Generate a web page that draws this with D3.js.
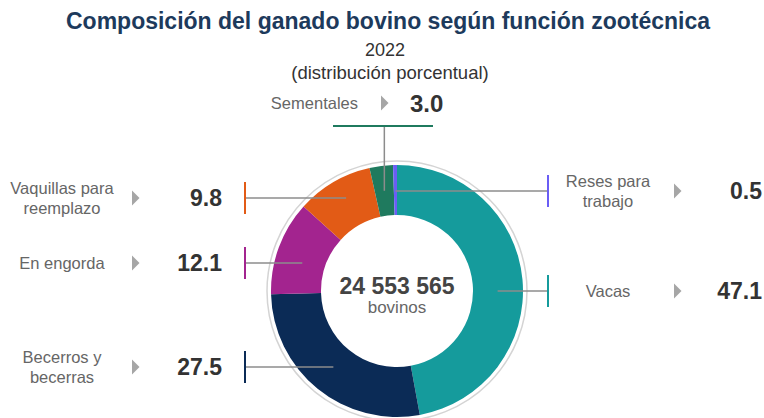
<!DOCTYPE html>
<html>
<head>
<meta charset="utf-8">
<script src="https://cdn.jsdelivr.net/npm/d3@7"></script>
<style>
  body { margin: 0; background: #fff; }
  text { font-family: "Liberation Sans", Arial, sans-serif; }
</style>
</head>
<body>
<div id="chart"></div>
<script>
const WIDTH = 764, HEIGHT = 418;

// data
const categories = ["Vacas", "Becerros y becerras", "En engorda", "Vaquillas para reemplazo", "Sementales", "Reses para trabajo"];
const labelLines = [["Vacas"], ["Becerros y", "becerras"], ["En engorda"], ["Vaquillas para", "reemplazo"], ["Sementales"], ["Reses para", "trabajo"]];
const values = [47.1, 27.5, 12.1, 9.8, 3.0, 0.5];
const colors = ["#159b9c", "#0b2b56", "#a3248f", "#e25b16", "#1f7a5e", "#6a5df5"];
const total = "24 553 565";

// layout of callouts (side + label row)
const layout = {
    "Vacas": {side: "right", y: 291},
    "Becerros y becerras": {side: "left", y: 367},
    "En engorda": {side: "left", y: 263},
    "Vaquillas para reemplazo": {side: "left", y: 198},
    "Sementales": {side: "top", y: 126},
    "Reses para trabajo": {side: "right", y: 191}
};

const CX = 397, CY = 291, R_OUT = 126, R_IN = 76;

const svg = d3.select("#chart").append("svg").attr("width", WIDTH).attr("height", HEIGHT)

// titles
svg.append("text").attr("x", 388).attr("y", 29).attr("text-anchor", "middle")
    .attr("font-size", 23).attr("font-weight", "bold").attr("fill", "#1d3a5c")
    .text("Composición del ganado bovino según función zootécnica")
svg.append("text").attr("x", 385).attr("y", 56).attr("text-anchor", "middle")
    .attr("font-size", 18).attr("fill", "#333").text("2022")
svg.append("text").attr("x", 390).attr("y", 79).attr("text-anchor", "middle")
    .attr("font-size", 18.5).attr("fill", "#333").text("(distribución porcentual)")

const g = svg.append("g").attr("transform", "translate(" + CX + "," + CY + ")")

// thin outer ring
g.append("circle").attr("r", R_OUT + 4).attr("fill", "none").attr("stroke", "#d4d4d4").attr("stroke-width", 1.5)

const pie = d3.pie().sort(null).value(d => d.value)
const arc = d3.arc().innerRadius(R_IN).outerRadius(R_OUT)
const mid = d3.arc().innerRadius((R_IN + R_OUT) / 2).outerRadius((R_IN + R_OUT) / 2)

const data = categories.map((c, i) => ({name: c, value: values[i], color: colors[i], lines: labelLines[i]}))
const arcs = pie(data)

g.selectAll("path.slice").data(arcs).enter().append("path")
    .attr("class", "slice").attr("d", arc).attr("fill", d => d.data.color)

// center text
g.append("text").attr("y", 3).attr("text-anchor", "middle").attr("font-size", 23)
    .attr("font-weight", "bold").attr("fill", "#444").text(total)
g.append("text").attr("y", 22).attr("text-anchor", "middle").attr("font-size", 17)
    .attr("fill", "#666").text("bovinos")

function arrow(x, y) {
    svg.append("path").attr("d", "M" + x + "," + (y - 7.5) + "L" + (x + 7.5) + "," + y + "L" + x + "," + (y + 7.5) + "Z")
        .attr("fill", "#a6a6a6")
}

function labelText(x, y, lines, anchor) {
    const t = svg.append("text").attr("text-anchor", anchor).attr("font-size", 16.5).attr("fill", "#666")
    const y0 = y - (lines.length - 1) * 10 + 6
    lines.forEach((l, i) => t.append("tspan").attr("x", x).attr("y", y0 + i * 20).text(l))
}

const fmt = d3.format(".1f")

// callouts
arcs.forEach(a => {
    const lay = layout[a.data.name]
    const c = mid.centroid(a)
    const px = CX + c[0], py = CY + c[1]
    if (lay.side == "top") {
        svg.append("line").attr("x1", px).attr("y1", py).attr("x2", px).attr("y2", lay.y)
            .attr("stroke", "#8c8c8c").attr("stroke-width", 1.5)
        svg.append("line").attr("x1", 333).attr("x2", 433).attr("y1", lay.y).attr("y2", lay.y)
            .attr("stroke", a.data.color).attr("stroke-width", 2)
        labelText(358, 103, a.data.lines, "end")
        arrow(381, 103)
        svg.append("text").attr("x", 410).attr("y", 112).attr("font-size", 24).attr("font-weight", "bold")
            .attr("fill", "#333").text(fmt(a.data.value))
        return
    }
    const tickX = lay.side == "left" ? 245 : 548
    svg.append("line").attr("x1", px).attr("y1", lay.y).attr("x2", tickX).attr("y2", lay.y)
        .attr("stroke", "#8c8c8c").attr("stroke-width", 1.5)
    svg.append("line").attr("x1", tickX).attr("x2", tickX).attr("y1", lay.y - 16).attr("y2", lay.y + 16)
        .attr("stroke", a.data.color).attr("stroke-width", 2)
    if (lay.side == "left") {
        labelText(62, lay.y, a.data.lines, "middle")
        arrow(132, lay.y)
        svg.append("text").attr("x", 222).attr("y", lay.y + 8).attr("text-anchor", "end").attr("font-size", 23)
            .attr("font-weight", "bold").attr("fill", "#333").text(fmt(a.data.value))
    } else {
        labelText(608, lay.y, a.data.lines, "middle")
        arrow(674, lay.y)
        svg.append("text").attr("x", 762).attr("y", lay.y + 8).attr("text-anchor", "end").attr("font-size", 23)
            .attr("font-weight", "bold").attr("fill", "#333").text(fmt(a.data.value))
    }
})
</script>
</body>
</html>
